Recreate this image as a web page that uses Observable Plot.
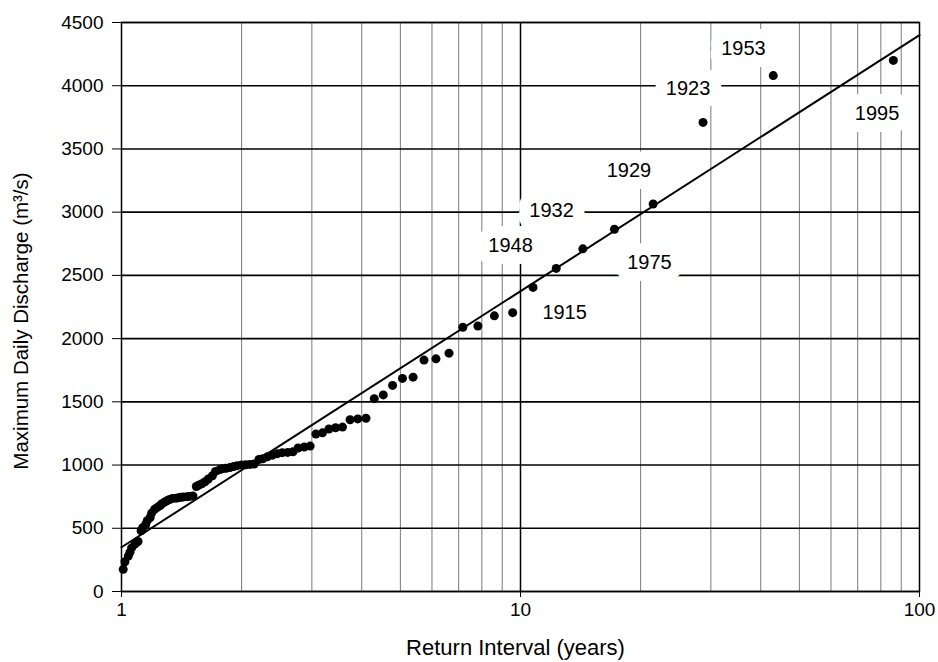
<!DOCTYPE html>
<html>
<head>
<meta charset="utf-8">
<script src="https://cdn.jsdelivr.net/npm/d3@7"></script>
<script src="https://cdn.jsdelivr.net/npm/@observablehq/plot@0.6"></script>
<style>
  html, body { margin: 0; padding: 0; background: #fff; }
</style>
</head>
<body>
<div id="chart"></div>
<script>
// Return interval (years) of each ranked annual maximum
const returnIntervals = [
  86, 43, 28.67, 21.5, 17.2, 14.33, 12.29, 10.75, 9.56, 8.6,
  7.82, 7.17, 6.62, 6.14, 5.73, 5.38, 5.06, 4.78, 4.53, 4.3,
  4.1, 3.91, 3.74, 3.58, 3.44, 3.31, 3.19, 3.07, 2.97, 2.87,
  2.77, 2.69, 2.61, 2.53, 2.46, 2.39, 2.32, 2.26, 2.21, 2.15,
  2.10, 2.05, 2.0, 1.95, 1.91, 1.87, 1.83, 1.79, 1.76, 1.72,
  1.69, 1.65, 1.62, 1.59, 1.56, 1.54, 1.51, 1.48, 1.46, 1.43,
  1.41, 1.39, 1.37, 1.34, 1.32, 1.30, 1.28, 1.26, 1.25, 1.23,
  1.21, 1.19, 1.18, 1.16, 1.15, 1.13, 1.12, 1.10, 1.09, 1.08,
  1.06, 1.05, 1.04, 1.02, 1.01
];
// Maximum daily discharge (m3/s)
const discharge = [
  4200, 4080, 3710, 3065, 2865, 2710, 2555, 2405, 2205, 2180,
  2100, 2090, 1885, 1840, 1830, 1695, 1685, 1630, 1555, 1525,
  1370, 1365, 1358, 1300, 1295, 1285, 1255, 1245, 1150, 1142,
  1135, 1105, 1100, 1098, 1090, 1078, 1065, 1050, 1044, 1008,
  1005, 1002, 1000, 995, 988, 980, 975, 970, 962, 950,
  915, 890, 868, 852, 840, 830, 755, 752, 750, 748,
  745, 742, 738, 735, 728, 718, 705, 692, 680, 665,
  650, 620, 585, 560, 530, 505, 480, 395, 390, 375,
  345, 310, 280, 235, 175
];
// Fitted line end points
const fitX = [1, 100];
const fitY = [350, 4400];
// Year annotations
const labelYears = ["1953", "1923", "1995", "1929", "1932", "1948", "1975", "1915"];
const labelX = [36.2, 26.3, 78.3, 18.7, 11.96, 9.44, 21.05, 12.9];
const labelY = [4296, 3977, 3779, 3331, 3014, 2737, 2605, 2202];
// Ticks
const xTicks = [1, 10, 100];
const minorX = [2, 3, 4, 5, 6, 7, 8, 9, 20, 30, 40, 50, 60, 70, 80, 90];
const majorX = [10];
const yTicks = [0, 500, 1000, 1500, 2000, 2500, 3000, 3500, 4000, 4500];
const xTitle = "Return Interval (years)";
const yTitle = "Maximum Daily Discharge (m³/s)";

const points = returnIntervals.map((x, i) => ({x, y: discharge[i]}));
const fit = fitX.map((x, i) => ({x, y: fitY[i]}));
const labels = labelYears.map((t, i) => ({x: labelX[i], y: labelY[i], t}));

const chart = Plot.plot({
  width: 938,
  height: 662,
  marginLeft: 121,
  marginRight: 19,
  marginTop: 22,
  marginBottom: 71,
  style: {fontFamily: "'Liberation Sans', Arial, Helvetica, sans-serif", fontSize: "19px", color: "black", background: "white", overflow: "visible"},
  x: {type: "log", domain: [1, 100]},
  y: {domain: [0, 4500]},
  marks: [
    Plot.ruleX(minorX, {stroke: "#7a7a7a", strokeWidth: 1}),
    Plot.ruleX(majorX, {stroke: "#000", strokeWidth: 1.5}),
    Plot.ruleY(yTicks, {stroke: "#000", strokeWidth: 1.6}),
    Plot.text(labels, {x: "x", y: "y", text: "t", fontSize: 20, fill: "black", stroke: "white", strokeWidth: 24, strokeLinejoin: "round", paintOrder: "stroke"}),
    Plot.line(fit, {x: "x", y: "y", stroke: "black", strokeWidth: 2}),
    Plot.dot(points, {x: "x", y: "y", r: 4.5, fill: "black"}),
    Plot.frame({stroke: "black", strokeWidth: 1.5}),
    Plot.axisX({ticks: xTicks, tickFormat: d => String(d), tickSize: 6, tickPadding: 5, label: null, fontSize: 19}),
    Plot.axisY({ticks: yTicks, tickFormat: d => String(d), tickSize: 9, tickPadding: 9, label: null, fontSize: 19}),
    Plot.text([xTitle], {text: d => d, frameAnchor: "bottom", textAnchor: "middle", lineAnchor: "middle", dy: 56, dx: -5, fontSize: 22}),
    Plot.text([yTitle], {text: d => d, frameAnchor: "left", textAnchor: "middle", lineAnchor: "middle", rotate: -90, dx: -100, dy: 14, fontSize: 20.5})
  ]
});
document.getElementById("chart").append(chart);
</script>
</body>
</html>
